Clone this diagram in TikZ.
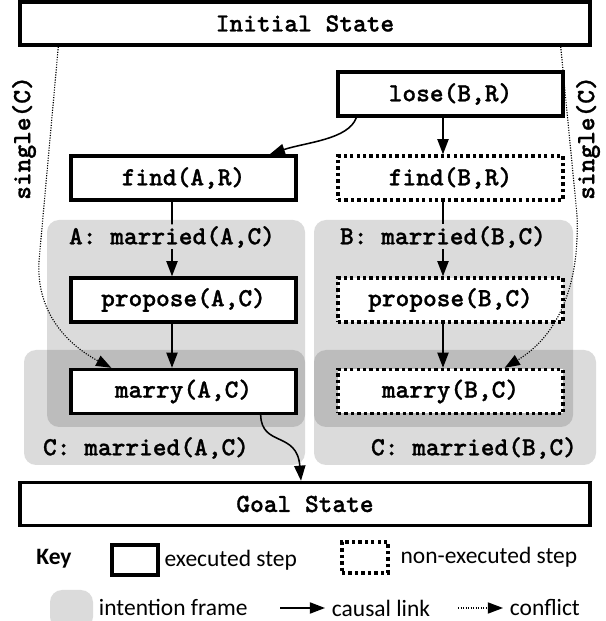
\documentclass[tikz,border=0pt]{standalone}
\usepackage{fontspec}
\setmainfont{Carlito}
\newfontfamily\monofam{lmmonolt10-bold.otf}[FakeBold=1]
\usetikzlibrary{arrows.meta}

\newcommand{\stepfont}{\monofam\fontsize{18.6}{21}\selectfont}
\newcommand{\keyfont}{\fontsize{16.7}{20}\selectfont}

\tikzset{
  exec/.style={draw,line width=2.4pt,fill=white,minimum width=5.625cm,minimum height=1.1cm,inner sep=0pt,font=\stepfont},
  nonexec/.style={exec,dash pattern=on 2.4pt off 2.2pt},
  state/.style={draw,line width=2.4pt,minimum width=14.25cm,minimum height=1.075cm,inner sep=0pt,font=\stepfont},
  frame/.style={fill=black,fill opacity=0.14,rounded corners=0.3cm},
  lbl/.style={font=\stepfont,inner sep=1pt},
  causal/.style={line width=1.1pt,-{Triangle[length=0.38cm,width=0.28cm]}},
  conflict/.style={line width=0.8pt,densely dotted,-{Triangle[length=0.38cm,width=0.28cm]}},
}

\begin{document}
\begin{tikzpicture}
\useasboundingbox (0,0) rectangle (15.15,15.525);

% intention frames
\fill[frame] (1.175,4.85) rectangle (7.625,10.025);
\fill[frame] (7.85,4.85) rectangle (14.325,10.025);
\fill[frame] (0.6,3.9) rectangle (7.625,6.775);
\fill[frame] (7.85,3.9) rectangle (14.9,6.775);

\node[state] (init) at (7.625,14.9375) {Initial State};
\node[state] (goal) at (7.625,2.925) {Goal State};

\node[exec] (lose) at (11.2625,13.175) {lose(B,R)};
\node[exec] (findA) at (4.5875,11.075) {find(A,R)};
\node[nonexec] (findB) at (11.2625,11.075) {find(B,R)};
\node[exec] (proposeA) at (4.5875,8.025) {propose(A,C)};
\node[nonexec] (proposeB) at (11.2625,8.025) {propose(B,C)};
\node[exec] (marryA) at (4.5875,5.7375) {marry(A,C)};
\node[nonexec] (marryB) at (11.2625,5.7375) {marry(B,C)};

\node[lbl] (goalA) at (4.3,9.6) {A: married(A,C)};
\node[lbl] (goalB) at (11.075,9.6) {B: married(B,C)};
\node[lbl] (goalCA) at (3.65,4.325) {C: married(A,C)};
\node[lbl] (goalCB) at (11.85,4.325) {C: married(B,C)};

\node[lbl,rotate=90] (singleL) at (0.6,12.075) {single(C)};
\node[lbl,rotate=90] (singleR) at (14.7,12.075) {single(C)};

% causal links
\draw[causal] ([xshift=0.5cm]lose.south west) .. controls +(-0.2,-0.55) and +(0.9,0.3) .. ([xshift=-0.7cm]findA.north east);
\draw[causal] ([xshift=-0.1875cm]lose.south) -- ([xshift=-0.1875cm]findB.north);
\draw[line width=1.1pt] ([xshift=-0.2875cm]findA.south) -- (goalA.north);
\draw[line width=1.1pt] ([xshift=-0.1875cm]findB.south) -- (goalB.north);
\draw[causal] (goalA.south) -- (goalA.south |- proposeA.north);
\draw[causal] (goalB.south) -- (goalB.south |- proposeB.north);
\draw[causal] ([xshift=-0.2875cm]proposeA.south) -- ([xshift=-0.2875cm]marryA.north);
\draw[causal] ([xshift=-0.1875cm]proposeB.south) -- ([xshift=-0.1875cm]marryB.north);
\draw[causal] ([xshift=-0.925cm]marryA.south east) .. controls +(0.025,-0.8) and +(-0.1,1.25) .. ([xshift=-0.1cm]goal.north);

% conflicts
\coordinate (bendL) at (0.975,9);
\coordinate (bendR) at (14.425,10.15);
\draw[conflict] ([xshift=1cm]init.south west) -- (bendL) .. controls (0.9,7.7) and (1.7,6.9) .. ([xshift=1.05cm]marryA.north west);
\draw[conflict] ([xshift=-0.775cm]init.south east) -- (bendR) .. controls (14.5,8.3) and (13.9,7.1) .. ([xshift=-1.5cm]marryB.north east);

% key
\node[font=\keyfont\bfseries] (key) at (1.35,1.55) {Key};
\node[draw,line width=2.4pt,minimum width=1.15cm,minimum height=0.75cm] (keyExec) at (3.375,1.525) {};
\node[anchor=west,font=\keyfont] (keyExecTxt) at (keyExec.east) {executed step};
\node[draw,line width=2.4pt,dash pattern=on 2.4pt off 2.2pt,minimum width=1.15cm,minimum height=0.775cm] (keyNon) at (9.125,1.5875) {};
\node[anchor=west,font=\keyfont] (keyNonTxt) at ([xshift=0.15cm]keyNon.east) {non-executed step};

\node[frame,minimum width=1.075cm,minimum height=0.975cm] (keyFrame) at (1.7875,0.2875) {};
\node[anchor=west,font=\keyfont] (keyFrameTxt) at (2.35,0.35) {intention frame};
\coordinate (causalA) at (7.0,0.325);
\coordinate (causalB) at (8.125,0.325);
\draw[causal] (causalA) -- (causalB);
\node[anchor=west,font=\keyfont] (causalTxt) at ([xshift=0.05cm]causalB) {causal link};
\coordinate (conflictA) at (11.45,0.325);
\coordinate (conflictB) at (12.575,0.325);
\draw[conflict] (conflictA) -- (conflictB);
\node[anchor=west,font=\keyfont] (conflictTxt) at ([xshift=0.05cm]conflictB) {conflict};

\end{tikzpicture}
\end{document}
